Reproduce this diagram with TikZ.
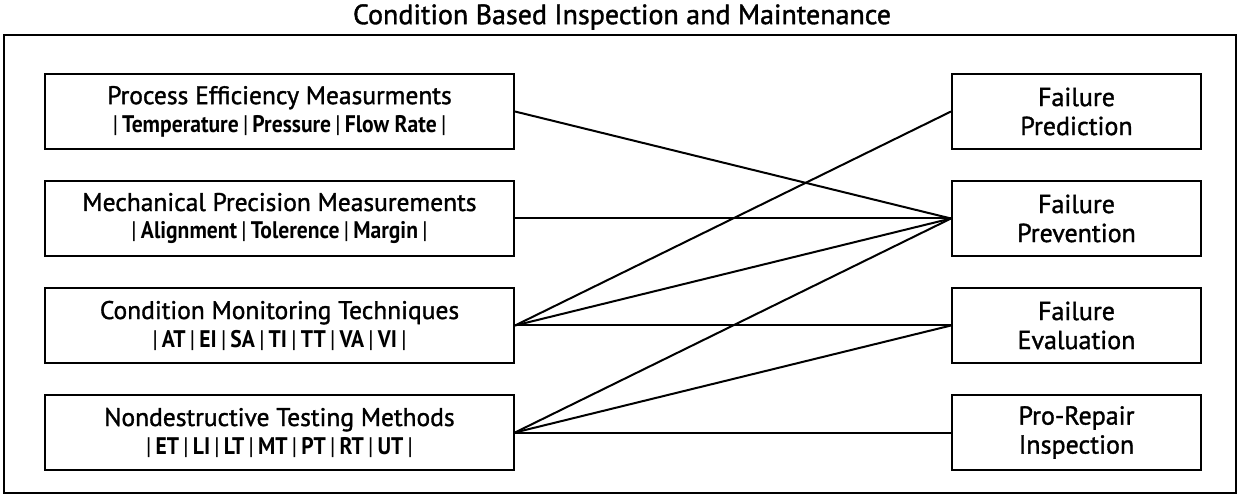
\documentclass[tikz,border=0pt]{standalone}
\usepackage{fontspec}
\setmainfont{PT Sans}[UprightFeatures={RawFeature={embolden=1.3}}]
\newfontfamily\tagfont{PT Sans}[UprightFont=* Bold, FakeStretch=0.9]
\newfontfamily\barfont{PT Sans}
\usetikzlibrary{positioning}

% second line with the method tags, thin bars between them
\newcommand{\tagline}[1]{{\tagfont\fontsize{24}{27}\selectfont #1}}
\newcommand{\tsep}{\,{\barfont|}\,}

\begin{document}
\begin{tikzpicture}[x=1pt, y=-1pt,
    every node/.style={font=\fontsize{25.5}{28}\selectfont},
    srcbox/.style={draw, line width=2pt, minimum width=469pt, minimum height=75pt,
                   align=center, inner sep=0pt},
    goalbox/.style={draw, line width=2pt, minimum width=249pt, minimum height=75pt,
                    align=center, inner sep=0pt, font=\fontsize{26}{29}\selectfont},
    link/.style={line width=2pt}]
  \useasboundingbox (0,0) rectangle (1237,494);

  % Outer frame and heading
  \draw[line width=1.6pt] (4,35) rectangle (1236,493);
  \node[font=\fontsize{28}{30}\selectfont] (title) at (622,17)
    {Condition Based Inspection and Maintenance};

  % Measurement groups (left column)
  \node[srcbox] (proc) at (279.5,111.5)
    {Process Efficiency Measurments\\ \tagline{\tsep Temperature\tsep Pressure\tsep Flow Rate\tsep}};
  \node[srcbox, below=30pt of proc] (mech)
    {Mechanical Precision Measurements\\ \tagline{\tsep Alignment\tsep Tolerence\tsep Margin\tsep}};
  \node[srcbox, below=30pt of mech] (cond)
    {Condition Monitoring Techniques\\ \tagline{\tsep AT\tsep EI\tsep SA\tsep TI\tsep TT\tsep VA\tsep VI\tsep}};
  \node[srcbox, below=30pt of cond] (ndt)
    {Nondestructive Testing Methods\\ \tagline{\tsep ET\tsep LI\tsep LT\tsep MT\tsep PT\tsep RT\tsep UT\tsep}};

  % Failure goals (right column)
  \node[goalbox, right=436pt of proc] (pred) {Failure\\ Prediction};
  \node[goalbox, right=436pt of mech] (prev) {Failure\\ Prevention};
  \node[goalbox, right=436pt of cond] (eval) {Failure\\ Evaluation};
  \node[goalbox, right=436pt of ndt] (prerep) {Pro-Repair\\ Inspection};

  % Connections
  \foreach \src/\dst in {proc/prev, mech/prev,
                         cond/pred, cond/prev, cond/eval,
                         ndt/prev, ndt/eval, ndt/prerep} {
    \draw[link] (\src.east) -- (\dst.west);
  }
\end{tikzpicture}
\end{document}
